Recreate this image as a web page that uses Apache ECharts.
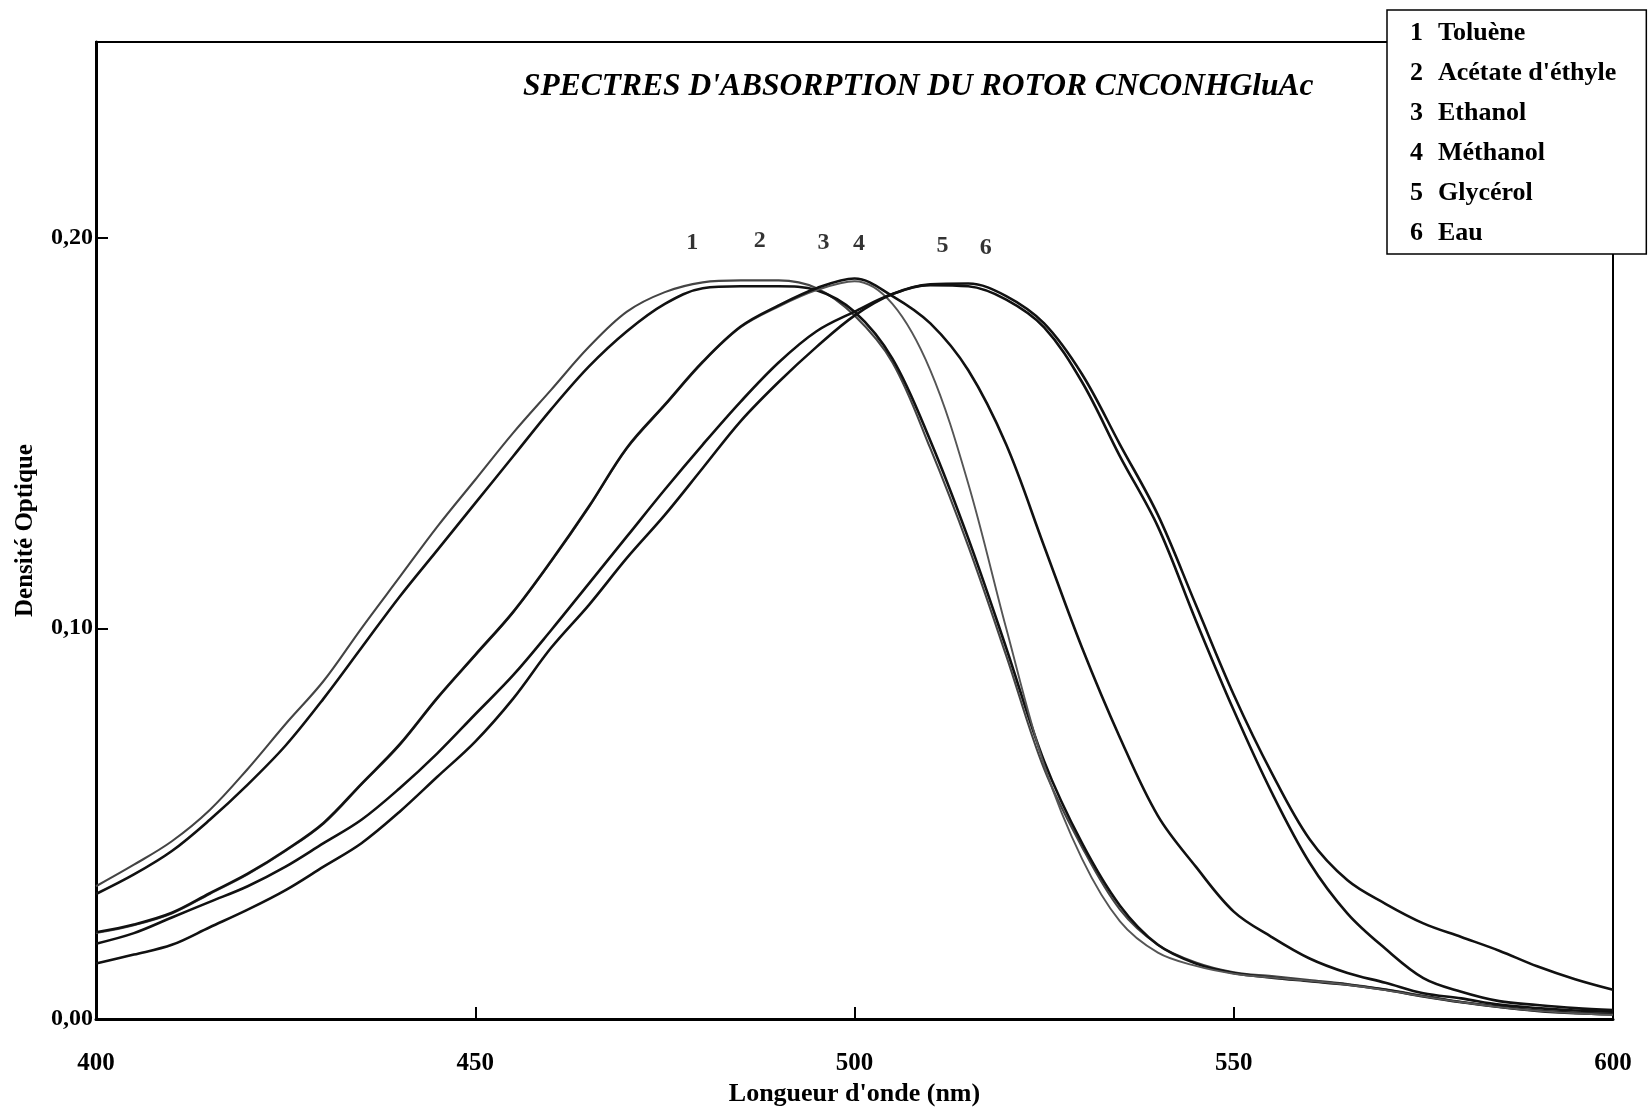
<!DOCTYPE html>
<html>
<head>
<meta charset="utf-8">
<script src="https://cdn.jsdelivr.net/npm/echarts@6/dist/echarts.min.js"></script>
<style>html,body{margin:0;padding:0;background:#fff}#c{width:1648px;height:1112px}</style>
</head>
<body>
<div id="c"></div>
<script>
// Wavelength grid (nm)
const wavelengths = [400,405,410,415,420,425,430,435,440,445,450,455,460,465,470,475,480,485,490,495,500,505,510,515,520,525,530,535,540,545,550,555,560,565,570,575,580,585,590,595,600];

// Solvent names (legend)
const solvents = ['Toluène', "Acétate d'éthyle", 'Ethanol', 'Méthanol', 'Glycérol', 'Eau'];

// Optical density values for each solvent
const toluene   = [0.034,0.0395,0.0455,0.0535,0.064,0.0755,0.0865,0.100,0.113,0.126,0.138,0.150,0.161,0.172,0.181,0.186,0.1885,0.189,0.189,0.187,0.180,0.168,0.146,0.121,0.093,0.064,0.044,0.028,0.019,0.0145,0.012,0.011,0.010,0.009,0.0076,0.006,0.0044,0.0032,0.0022,0.0017,0.0014];
const acetate   = [0.032,0.037,0.043,0.051,0.060,0.070,0.082,0.095,0.108,0.120,0.132,0.144,0.156,0.167,0.176,0.183,0.187,0.1875,0.1875,0.1865,0.181,0.169,0.148,0.123,0.095,0.066,0.045,0.029,0.019,0.0142,0.0118,0.0106,0.0097,0.0088,0.0075,0.0058,0.0043,0.0031,0.0021,0.0015,0.0012];
const ethanol   = [0.022,0.024,0.027,0.032,0.037,0.043,0.050,0.060,0.070,0.082,0.093,0.104,0.117,0.131,0.146,0.157,0.168,0.177,0.1823,0.1865,0.1888,0.183,0.166,0.137,0.100,0.065,0.041,0.025,0.017,0.0136,0.0116,0.0106,0.0098,0.0088,0.0074,0.0058,0.0043,0.0031,0.0021,0.0015,0.0011];
const methanol  = [0.0222,0.0242,0.0272,0.0322,0.0372,0.0432,0.0502,0.0602,0.0702,0.0822,0.0932,0.1042,0.1172,0.1312,0.1462,0.1572,0.1682,0.1772,0.1826,0.187,0.1895,0.185,0.178,0.166,0.147,0.121,0.095,0.072,0.052,0.039,0.0275,0.021,0.0155,0.0118,0.0093,0.0066,0.0053,0.0037,0.0028,0.0022,0.0019];
const glycerol  = [0.0193,0.022,0.026,0.030,0.034,0.039,0.045,0.051,0.059,0.068,0.078,0.088,0.0995,0.1115,0.1235,0.1355,0.147,0.158,0.168,0.176,0.181,0.1855,0.1878,0.1875,0.1841,0.177,0.163,0.144,0.126,0.102,0.079,0.058,0.040,0.027,0.018,0.0105,0.007,0.0046,0.0036,0.0028,0.0023];
const eau       = [0.0142,0.0165,0.019,0.0235,0.028,0.033,0.039,0.045,0.053,0.062,0.071,0.082,0.095,0.106,0.118,0.129,0.141,0.153,0.163,0.172,0.180,0.1855,0.188,0.1882,0.185,0.178,0.165,0.147,0.129,0.106,0.083,0.063,0.046,0.0355,0.0295,0.0245,0.021,0.0175,0.0135,0.0102,0.0075];

// Curve number labels placed above the peaks
const curveNumbers = ['1','2','3','4','5','6'];
const curveNumberX = [478.6, 487.5, 495.9, 500.6, 511.6, 517.3];
const curveNumberY = [0.1987, 0.1992, 0.1987, 0.1984, 0.1979, 0.1973];

// Axis tick values
const yTickValues = [0, 0.10, 0.20];

const seriesValues = [toluene, acetate, ethanol, methanol, glycerol, eau];
const lineColors = ['#444', '#111', '#555', '#111', '#111', '#111'];
const lineWidths = [2.1, 2.6, 1.9, 2.6, 2.6, 2.6];

const FONT = "'Liberation Serif', 'DejaVu Serif', serif";

const chart = echarts.init(document.getElementById('c'), null, {renderer: 'canvas'});

const series = seriesValues.map((vals, i) => ({
  name: solvents[i],
  type: 'line',
  data: wavelengths.map((w, j) => [w, vals[j]]),
  showSymbol: false,
  smooth: 0.35,
  lineStyle: {color: lineColors[i], width: lineWidths[i]},
  itemStyle: {color: lineColors[i]},
  emphasis: {disabled: true},
  z: 3
}));

series.push({
  name: 'labels',
  type: 'scatter',
  data: curveNumbers.map((n, i) => ({name: n, value: [curveNumberX[i], curveNumberY[i]]})),
  symbolSize: 1,
  itemStyle: {color: 'rgba(0,0,0,0)'},
  label: {
    show: true, position: 'inside',
    formatter: p => p.name,
    color: '#000', fontFamily: FONT, fontWeight: 'bold', fontSize: 24
  },
  emphasis: {disabled: true},
  z: 4
});

const option = {
  animation: false,
  backgroundColor: '#fff',
  title: {
    text: "SPECTRES D'ABSORPTION DU ROTOR CNCONHGluAc",
    left: 518, top: 66,
    textStyle: {fontFamily: FONT, fontStyle: 'italic', fontWeight: 'bold', fontSize: 31.5, color: '#000'}
  },
  legend: {
    data: solvents,
    orient: 'vertical',
    left: 1387, top: 10,
    icon: 'none',
    itemWidth: 0, itemHeight: 26, itemGap: 14,
    padding: [10, 30, 8, 18],
    backgroundColor: '#fff',
    borderColor: '#000', borderWidth: 1.5,
    selectedMode: false,
    formatter: name => '{n|' + (solvents.indexOf(name) + 1) + '}{t|' + name + '}',
    textStyle: {
      fontFamily: FONT, fontWeight: 'bold', fontSize: 26, color: '#000',
      rich: {
        n: {width: 28, fontFamily: FONT, fontWeight: 'bold', fontSize: 26, color: '#000'},
        t: {fontFamily: FONT, fontWeight: 'bold', fontSize: 26, color: '#000'}
      }
    },
    z: 10
  },
  grid: {
    left: 96, right: 35, top: 42, bottom: 89,
    show: true, borderColor: '#000', borderWidth: 2, backgroundColor: 'transparent'
  },
  xAxis: {
    type: 'value', min: 400, max: 600, interval: 50,
    name: "Longueur d'onde (nm)", nameLocation: 'middle', nameGap: 53,
    nameTextStyle: {fontFamily: FONT, fontWeight: 'bold', fontSize: 26, color: '#000'},
    axisLine: {show: true, lineStyle: {color: '#000', width: 3}},
    axisTick: {show: true, inside: true, length: 12, lineStyle: {color: '#000', width: 2}},
    axisLabel: {margin: 32, fontFamily: FONT, fontWeight: 'bold', fontSize: 25, color: '#000'},
    splitLine: {show: false}
  },
  yAxis: {
    type: 'value', min: 0, max: 0.25, interval: 0.1,
    name: 'Densité Optique', nameLocation: 'middle', nameGap: 58,
    nameTextStyle: {fontFamily: FONT, fontWeight: 'bold', fontSize: 25, color: '#000'},
    axisLine: {show: true, lineStyle: {color: '#000', width: 3}},
    axisTick: {show: true, inside: true, length: 12, lineStyle: {color: '#000', width: 2}},
    axisLabel: {
      margin: 3, fontFamily: FONT, fontWeight: 'bold', fontSize: 24, color: '#000',
      showMaxLabel: false,
      formatter: v => yTickValues.some(t => Math.abs(t - v) < 1e-9) ? v.toFixed(2).replace('.', ',') : ''
    },
    splitLine: {show: false}
  },
  series: series
};

chart.setOption(option);
</script>
</body>
</html>
